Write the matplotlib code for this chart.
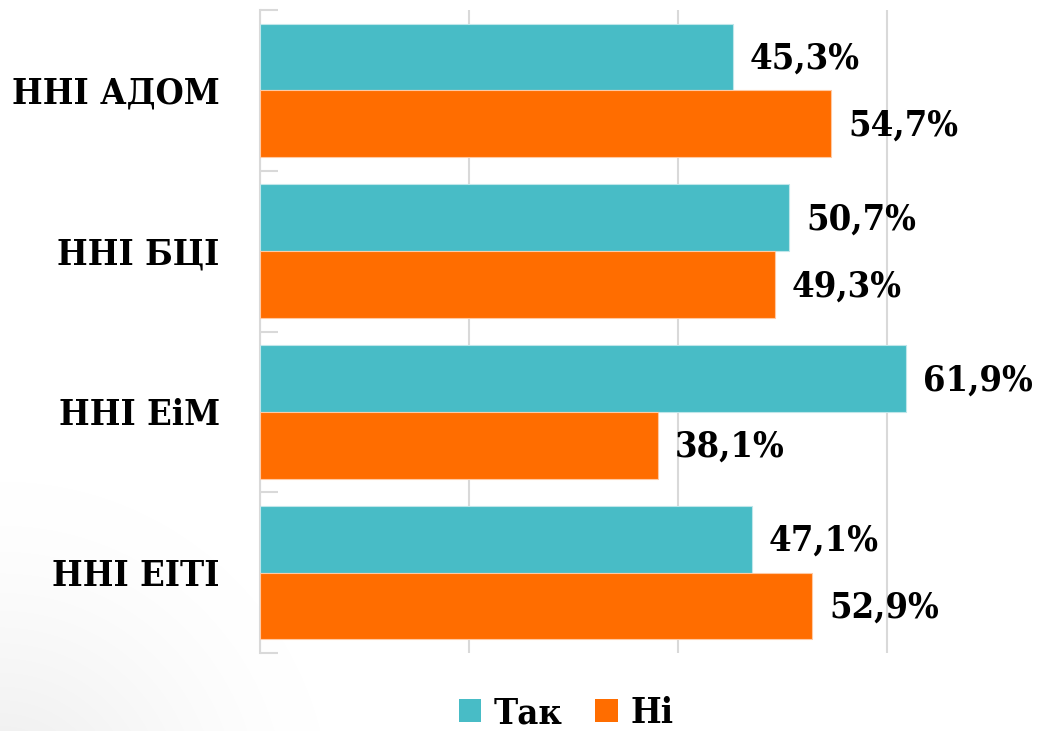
import numpy as np
import matplotlib
matplotlib.use("Agg")
import matplotlib.pyplot as plt
from matplotlib.patches import Patch
from matplotlib import font_manager

categories = ["ННІ АДОМ", "ННІ БЦІ", "ННІ ЕіМ", "ННІ ЕІТІ"]
tak = [45.3, 50.7, 61.9, 47.1]
ni = [54.7, 49.3, 38.1, 52.9]
series_names = ["Так", "Ні"]
label_fmt = lambda v: f"{v:.1f}%".replace(".", ",")

TEAL = "#48BCC6"
ORANGE = "#FF6D00"
FONT = "DejaVu Serif"
STRETCH = "condensed"

W, H = 1038, 731
fig = plt.figure(figsize=(W / 100, H / 100), dpi=100)
fig.patch.set_facecolor("white")

# subtle gray shading in lower-left corner (slide background)
bg = fig.add_axes([0, 0, 1, 1], zorder=-10)
yy, xx = np.mgrid[0:H, 0:W]
d = np.sqrt(((xx - 0) / 330.0) ** 2 + ((yy - (H + 80)) / 330.0) ** 2)
shade = np.clip(1 - d, 0, 1) ** 1.5 * 0.08
img = np.ones((H, W, 3)) * (1 - shade[..., None])
bg.imshow(img, extent=[0, W, H, 0], aspect="auto")
bg.axis("off")

left, right, top, bottom = 260, 991, 10, 653
ax = fig.add_axes([left / W, 1 - bottom / H, (right - left) / W, (bottom - top) / H])
ax.patch.set_alpha(0)

n = len(categories)
y = np.arange(n)
bh = 0.415
ax.barh(y - bh / 2, tak, height=bh, color=TEAL, edgecolor="#bfe6ea", linewidth=0.8, zorder=3)
ax.barh(y + bh / 2, ni, height=bh, color=ORANGE, edgecolor="#ffc9a3", linewidth=0.8, zorder=3)

lab_kw = dict(fontsize=26, fontweight="bold", family=FONT, fontstretch=STRETCH, color="black")
for i in range(n):
    ax.text(tak[i] + 1.6, y[i] - bh / 2 + 0.01, label_fmt(tak[i]), va="center", ha="left",
            clip_on=False, zorder=4, **lab_kw)
    ax.text(ni[i] + 1.6, y[i] + bh / 2 + 0.01, label_fmt(ni[i]), va="center", ha="left",
            clip_on=False, zorder=4, **lab_kw)

ax.set_xlim(0, 70)
ax.set_ylim(n - 0.5, -0.5)
ax.set_xticks([0, 20, 40, 60])
ax.set_xticklabels([])
ax.grid(axis="x", color="#d9d9d9", linewidth=1.5, zorder=0)
ax.tick_params(axis="x", length=0)

ax.set_yticks(np.arange(-0.5, n, 1.0))
ax.set_yticklabels([])
ax.set_yticks(y, minor=True)
ax.set_yticklabels(categories, minor=True)
for t in ax.get_yticklabels(minor=True):
    t.set_fontsize(26)
    t.set_fontweight("bold")
    t.set_family(FONT)
    t.set_fontstretch(STRETCH)
ax.tick_params(axis="y", which="major", direction="in", length=13, width=1.5, color="#d9d9d9")
ax.tick_params(axis="y", which="minor", length=0, pad=29)

for s in ["top", "right", "bottom"]:
    ax.spines[s].set_visible(False)
ax.spines["left"].set_color("#d9d9d9")
ax.spines["left"].set_linewidth(1.5)

handles = [Patch(facecolor=TEAL, label=series_names[0]), Patch(facecolor=ORANGE, label=series_names[1])]
fig.legend(handles=handles, loc="center", bbox_to_anchor=(566 / W, 1 - 713 / H), ncol=2,
           frameon=False,
           prop=font_manager.FontProperties(family=FONT, weight="bold", size=26, stretch=STRETCH),
           handlelength=0.62, handleheight=0.62, handletextpad=0.35, columnspacing=0.9)

fig.savefig("out.png", dpi=100, facecolor="white")
